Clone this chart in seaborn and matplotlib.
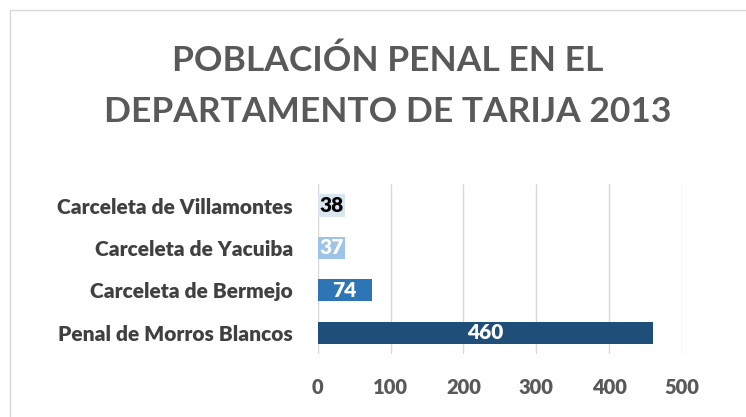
import matplotlib
matplotlib.use("Agg")
import matplotlib.pyplot as plt
import seaborn as sns
import pandas as pd
from matplotlib.patches import Rectangle

# datos
centros = ["Carceleta de Villamontes", "Carceleta de Yacuiba",
           "Carceleta de Bermejo", "Penal de Morros Blancos"]
poblacion = [38, 37, 74, 460]
colores = ["#dae5f2", "#9dc3e6", "#2e75b6", "#1f4e79"]
color_texto = ["black", "white", "white", "white"]
ticks_x = [0, 100, 200, 300, 400, 500]

sns.set_style("white")
plt.rcParams["font.family"] = ["Lato", "DejaVu Sans"]

df = pd.DataFrame({"centro": centros, "poblacion": poblacion})

fig = plt.figure(figsize=(7.46, 4.17), dpi=100)
ax = fig.add_axes([0.426, 0.151, 0.488, 0.407])

sns.barplot(data=df, y="centro", x="poblacion", hue="centro",
            palette=colores, saturation=1, width=0.52, ax=ax, legend=False,
            edgecolor="none")

for i, v in enumerate(poblacion):
    ax.text(v / 2, i, str(v), ha="center", va="center", fontsize=15,
            fontweight="heavy", color=color_texto[i])

ax.set_xlim(0, 500)
ax.set_xticks(ticks_x)
ax.set_xticklabels([str(t) for t in ticks_x], fontsize=14.5,
                   fontweight="heavy", color="#595959")
ax.set_yticks(range(len(centros)))
ax.set_yticklabels(centros, fontsize=15, fontweight="heavy", color="#404040")
ax.xaxis.grid(True, color="#d9d9d9", linewidth=1)
ax.set_axisbelow(True)
for s in ax.spines.values():
    s.set_visible(False)
ax.axvline(0, color="#d9d9d9", linewidth=1.5, zorder=0)
ax.set_xlabel("")
ax.set_ylabel("")
ax.tick_params(axis="x", length=0, pad=17)
ax.tick_params(axis="y", length=0, pad=18)

fig.text(0.52, 0.793, "POBLACIÓN PENAL EN EL\nDEPARTAMENTO DE TARIJA 2013",
         ha="center", va="center", fontsize=25.5, fontweight="bold",
         color="#595959", linespacing=1.7)

fig.patches.append(Rectangle((10 / 746, -0.01), 1.0, 1 - 10 / 417 + 0.01,
                             transform=fig.transFigure, fill=False,
                             edgecolor="#d9d9d9", linewidth=1))

fig.savefig("out.png", dpi=100)
